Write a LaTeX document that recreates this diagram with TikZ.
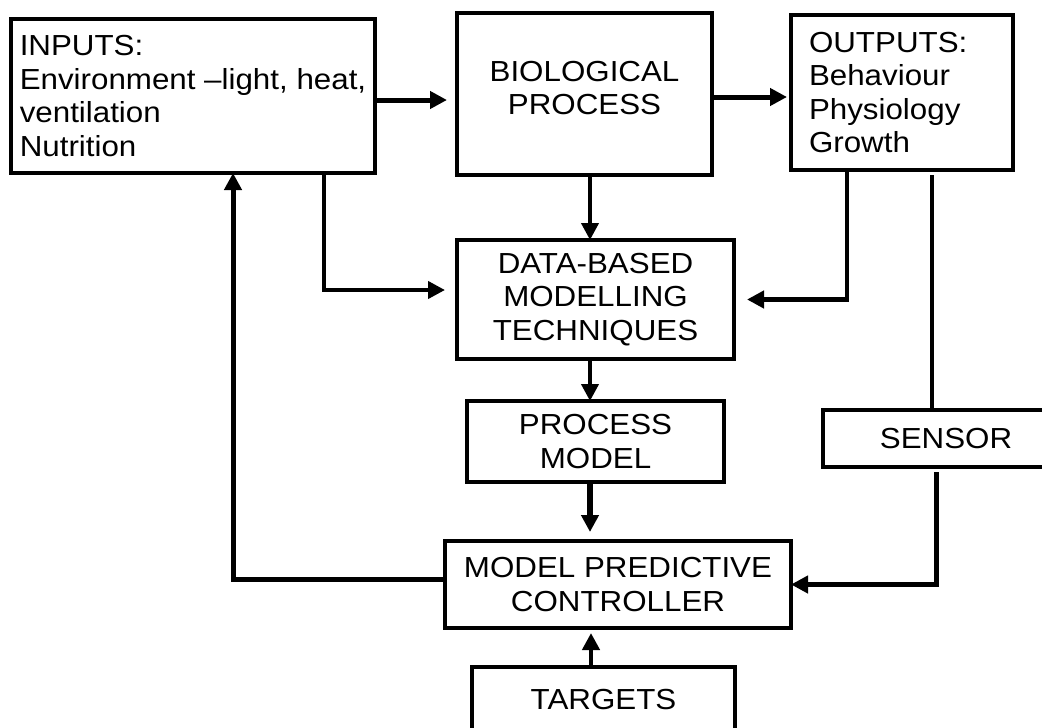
\documentclass[tikz,border=0pt]{standalone}
\usepackage{fontspec}
\setmainfont{Liberation Sans}[FakeStretch=1.08]
\usetikzlibrary{arrows.meta}
\begin{document}
\begin{tikzpicture}[x=1pt,y=-1pt,
  box/.style={draw, line width=3.5pt, outer sep=0pt, inner sep=0pt, anchor=north west,
    align=center, font=\fontsize{29}{33.5}\selectfont},
  conn/.style={line width=4pt, -{Triangle[length=17pt,width=17pt]}},
  plain/.style={line width=4pt}]
\useasboundingbox (0,0) rectangle (1042,728);
\clip (0,0) rectangle (1042,728);
\fill[white] (0,0) rectangle (1042,728);

\node[box, minimum width=364pt, minimum height=154pt, align=left] (in) at (11,19)
  {INPUTS:\\Environment –light, heat,\\ventilation\\Nutrition};
\node[box, minimum width=255pt, minimum height=162pt, text depth=12pt] (bio) at (457,13)
  {BIOLOGICAL\\PROCESS};
\node[box, minimum width=222pt, minimum height=155pt, text width=186pt, align=left] (out) at (791,15)
  {OUTPUTS:\\Behaviour\\Physiology\\Growth};
\node[box, minimum width=277pt, minimum height=119pt] (data) at (457,240)
  {DATA-BASED\\MODELLING\\TECHNIQUES};
\node[box, minimum width=257pt, minimum height=81pt] (pm) at (467,401)
  {PROCESS\\MODEL};
\node[box, minimum width=246pt, minimum height=57pt] (sensor) at (823,410)
  {SENSOR};
\node[box, minimum width=346pt, minimum height=87pt] (mpc) at (445,541)
  {MODEL PREDICTIVE\\CONTROLLER};
\node[box, minimum width=263pt, minimum height=66pt] (tg) at (472,667)
  {TARGETS};

% inputs -> biological process
\draw[conn, line width=5pt, shorten >=10pt] ([yshift=-4pt]in.east) -- ([yshift=-4pt]in.east -| bio.west);
% biological process -> outputs
\draw[conn, line width=5pt, shorten >=4pt] ([yshift=-3pt]bio.east) -- ([yshift=-3pt]bio.east -| out.west);
% biological process -> data-based
\draw[conn] ([xshift=5.5pt]bio.south) -- ([xshift=5.5pt]bio.south |- data.north);
% inputs -> data-based
\draw[conn, shorten >=12pt] ([xshift=131pt]in.south) |- ([yshift=9.5pt]data.west);
% outputs -> data-based
\draw[conn, line width=4.5pt, shorten >=13pt] ([xshift=-55pt]out.south) |- (data.east);
% data-based -> process model
\draw[conn] ([xshift=-5.5pt]data.south) -- ([xshift=-5.5pt]data.south |- pm.north);
% process model -> controller
\draw[conn, line width=6pt, shorten >=9pt] ([xshift=-5.5pt]pm.south) -- ([xshift=-5.5pt]pm.south |- mpc.north);
% outputs -> sensor
\draw[plain, shorten <=5pt] ([xshift=30pt]out.south) -- ([xshift=30pt]out.south |- sensor.north);
% sensor -> controller
\draw[conn, line width=5pt, shorten <=5pt, shorten >=0pt] ([xshift=-10pt]sensor.south) |- (mpc.east);
% controller -> inputs
\draw[conn, line width=5pt] ([yshift=5.5pt]mpc.west) -| ([xshift=40pt]in.south);
% targets -> controller
\draw[conn, line width=4.5pt, shorten >=5pt] ([xshift=-12.5pt]tg.north) -- ([xshift=-12.5pt]tg.north |- mpc.south);
\end{tikzpicture}
\end{document}
